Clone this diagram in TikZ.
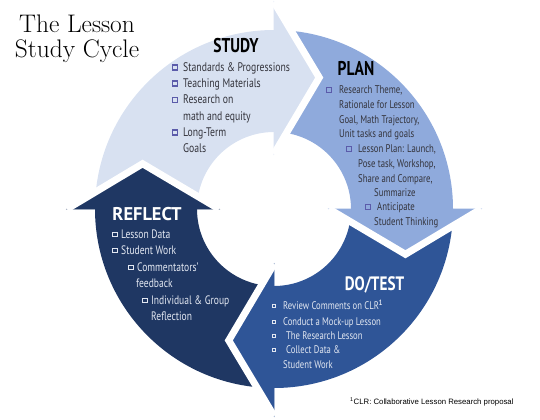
\documentclass[tikz,border=0pt]{standalone}
\usepackage{fontspec}
\newfontfamily\cf[FakeStretch=0.78]{PT Sans}
\newfontfamily\rf{PT Sans}
\newfontfamily\fnf{Liberation Sans}
\definecolor{cStudy}{HTML}{D8E1F1}
\definecolor{cPlan}{HTML}{8FAADC}
\definecolor{cDo}{HTML}{2F5597}
\definecolor{cRef}{HTML}{1F3763}
\definecolor{cBul}{HTML}{5B5BAA}
\definecolor{cTxtL}{HTML}{34343C}
\definecolor{cTxtD}{HTML}{E2E7F1}
\begin{document}
\begin{tikzpicture}[x=1bp,y=1bp,
  stxt/.style={anchor=base west,inner sep=0pt,text=cTxtL,font=\cf\fontsize{12.5}{14}\selectfont},
  ptxt/.style={anchor=base west,inner sep=0pt,text=cTxtL,font=\cf\fontsize{11.2}{13}\selectfont},
  rtxt/.style={anchor=base west,inner sep=0pt,text=cTxtD,font=\cf\fontsize{12.3}{14}\selectfont},
  dtxt/.style={anchor=base west,inner sep=0pt,text=cTxtD,font=\cf\fontsize{11.1}{13}\selectfont},
  head/.style={anchor=base,inner sep=0pt,font=\cf\bfseries\fontsize{20}{22}\selectfont},
  ttl/.style={anchor=base,inner sep=0pt,font=\addfontfeatures{FakeBold=0.8}\fontsize{25.5}{26}\selectfont},
  bulL/.style={draw=cBul,line width=1.2bp,minimum size=5bp,inner sep=0pt,fill=none},
  bulD/.style={draw=cTxtD,line width=0.8bp,minimum size=4.6bp,inner sep=0pt,fill=none},
  bulS/.style={draw=cTxtD,line width=0.7bp,minimum size=3.6bp,inner sep=0pt,fill=none},
  gap/.style={draw=white,line width=7bp,line join=miter}]
\useasboundingbox (0,0) rectangle (540,419);
\begin{scope}[shift={(274,210)}]
  \begin{scope}
    \clip (179,0) arc[start angle=0,end angle=360,radius=179] -- cycle
          (77,0) arc[start angle=0,end angle=-360,radius=77] -- cycle;
    \fill[cStudy] (0,0) -- (90:300) -- (135:430) -- (180:300) -- (180:207) -- (161:139) -- (180:55) -- cycle;
    \fill[cPlan] (0,0) -- (0:300) -- (45:430) -- (90:300) -- (90:207) -- (71:139) -- (90:55) -- cycle;
    \fill[cDo] (0,0) -- (-90:300) -- (-45:430) -- (0:300) -- (0:207) -- (-19:139) -- (0:55) -- cycle;
    \fill[cRef] (0,0) -- (180:300) -- (225:430) -- (270:300) -- (270:207) -- (251:139) -- (270:55) -- cycle;
  \end{scope}
  \filldraw[cStudy,line width=0.6bp] (90:55) -- (90:207) -- (71:139) -- cycle;
  \filldraw[cPlan,line width=0.6bp] (0:55) -- (0:207) -- (-19:139) -- cycle;
  \filldraw[cDo,line width=0.6bp] (-90:55) -- (-90:207) -- (-109:139) -- cycle;
  \filldraw[cRef,line width=0.6bp] (180:55) -- (180:207) -- (161:139) -- cycle;
  \draw[gap] (90:207) -- (71:139) -- (90:55);
  \draw[gap] (0:207) -- (-19:139) -- (0:55);
  \draw[gap] (-90:207) -- (-109:139) -- (-90:55);
  \draw[gap] (180:207) -- (161:139) -- (180:55);
\end{scope}
% title
\node[ttl] (t1) at (77,387) {The Lesson};
\node[ttl] (t2) at (77,362) {Study Cycle};
% STUDY
\node[head] (hs) at (236,367) {STUDY};
\node[bulL] (sb1) at (175,351.5) {};
\node[stxt] (s1) at (183,348) {Standards \& Progressions};
\node[bulL] (sb2) at (175,335.5) {};
\node[stxt] (s2) at (183,332) {Teaching Materials};
\node[bulL] (sb3) at (175,319) {};
\node[stxt] (s3) at (183,315.5) {Research on};
\node[stxt] (s4) at (183,299) {math and equity};
\node[bulL] (sb4) at (175,286.5) {};
\node[stxt] (s5) at (183,283) {Long-Term};
\node[stxt] (s6) at (183,267) {Goals};
% PLAN
\node[head] (hp) at (356,344) {PLAN};
\node[bulL] (pb1) at (329,329) {};
\node[ptxt] (p1) at (339,326) {Research Theme,};
\node[ptxt] (p2) at (339,311) {Rationale for Lesson};
\node[ptxt] (p3) at (339,296) {Goal, Math Trajectory,};
\node[ptxt] (p4) at (339,282) {Unit tasks and goals};
\node[bulL] (pb2) at (349,270) {};
\node[ptxt] (p5) at (358,267) {Lesson Plan: Launch,};
\node[ptxt] (p6) at (358,252) {Pose task, Workshop,};
\node[ptxt] (p7) at (358,237) {Share and Compare,};
\node[ptxt] (p8) at (374,223) {Summarize};
\node[bulL] (pb3) at (368,212) {};
\node[ptxt] (p9) at (377,209) {Anticipate};
\node[ptxt] (p10) at (374,194) {Student Thinking};
% REFLECT
\node[anchor=base,inner sep=0pt,text=white,font=\rf\bfseries\fontsize{18.5}{20}\selectfont] (hr) at (147,199) {REFLECT};
\node[bulD] (rb1) at (115,184.5) {};
\node[rtxt] (r1) at (121,181) {Lesson Data};
\node[bulD] (rb2) at (115,168.5) {};
\node[rtxt] (r2) at (121,165) {Student Work};
\node[bulD] (rb3) at (131,151.5) {};
\node[rtxt] (r3) at (137,148) {Commentators’};
\node[rtxt] (r4) at (136,132) {feedback};
\node[bulD] (rb4) at (145,118.5) {};
\node[rtxt] (r5) at (151,115) {Individual \& Group};
\node[rtxt] (r6) at (151,99) {Reflection};
% DO/TEST
\node[head,text=white,font=\cf\bfseries\fontsize{19.5}{21}\selectfont] (hd) at (374.5,129) {DO/TEST};
\node[bulS] (db1) at (274,113) {};
\node[dtxt] (d1) at (283,110) {Review Comments on CLR\textsuperscript{\bfseries 1}};
\node[bulS] (db2) at (274,97) {};
\node[dtxt] (d2) at (283,94) {Conduct a Mock-up Lesson};
\node[bulS] (db3) at (274,83) {};
\node[dtxt] (d3) at (286,80) {The Research Lesson};
\node[bulS] (db4) at (274,69) {};
\node[dtxt] (d4) at (286,66) {Collect Data \&};
\node[dtxt] (d5) at (283,51) {Student Work};
% footnote
\node[anchor=base west,inner sep=0pt,font=\fnf\fontsize{7.8}{9}\selectfont] (fn) at (350,15) {\textsuperscript{1}CLR: Collaborative Lesson Research proposal};
\end{tikzpicture}
\end{document}
